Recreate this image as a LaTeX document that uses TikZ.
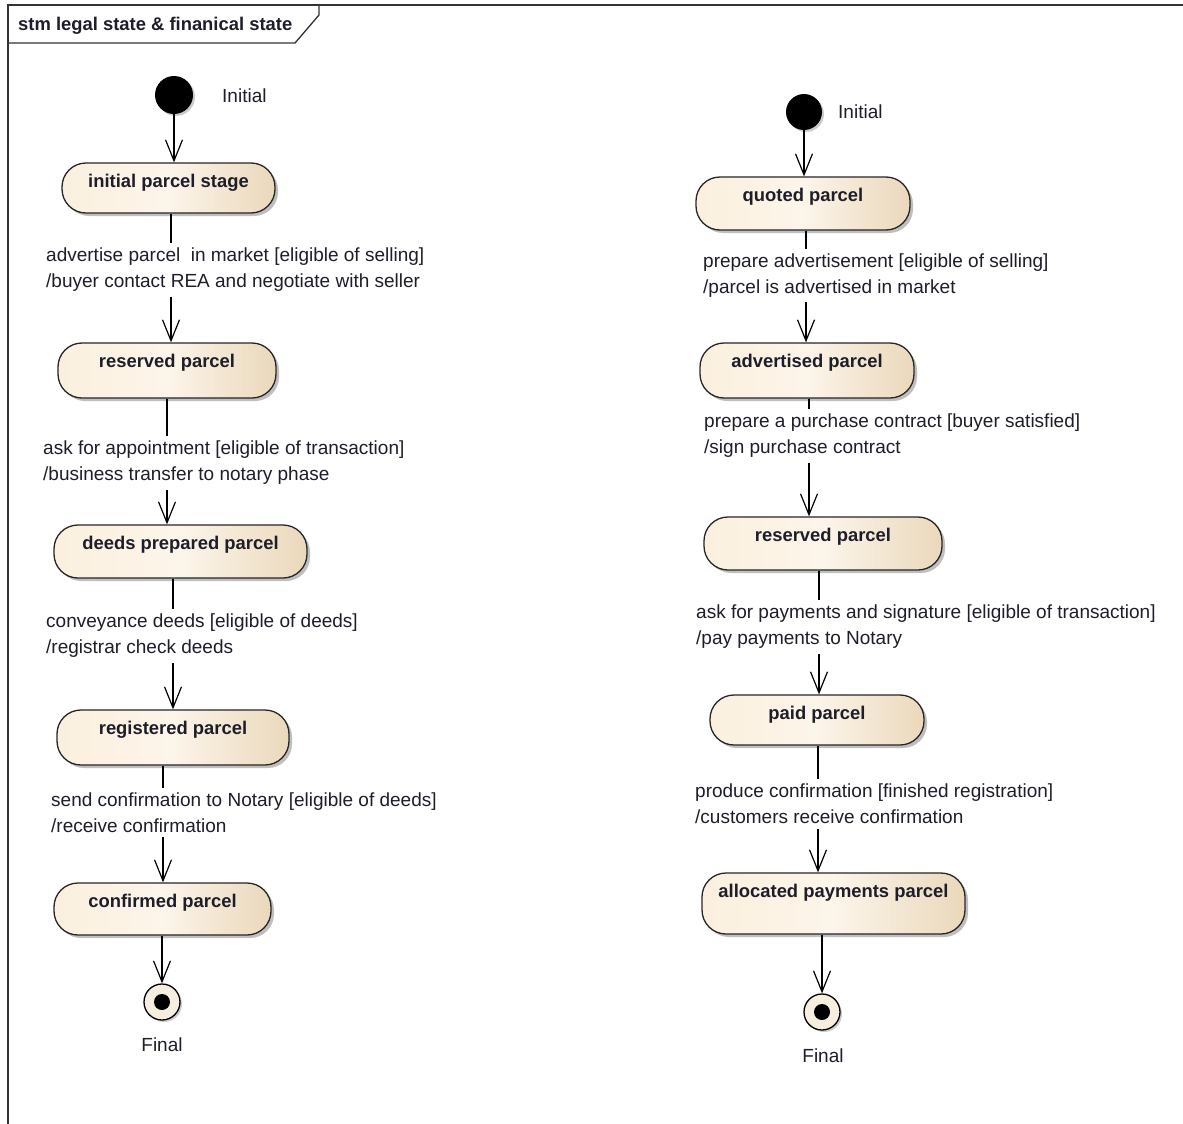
\documentclass[tikz,border=0pt]{standalone}
\usepackage{fontspec}
\setmainfont{Liberation Sans}
\usetikzlibrary{arrows.meta,shadows}
\definecolor{txt}{HTML}{1E1E2A}
\definecolor{stL}{HTML}{FBF0DE}
\definecolor{stM}{HTML}{FCF5EA}
\definecolor{stR}{HTML}{EAD8BB}
\definecolor{fin}{HTML}{F6EEDF}
\newcommand{\lblfont}{\fontsize{19}{26}\selectfont}
\newcommand{\stfont}{\fontsize{18.4}{22}\selectfont\bfseries}
\begin{document}
\begin{tikzpicture}[x=1pt,y=-1pt,
  frame/.style={draw=black!80,line width=1.3pt},
  stbox/.style={draw=black!85,line width=1.3pt,rounded corners=24pt,
    left color=stL,right color=stR,middle color=stM,inner sep=0pt,
    drop shadow={shadow xshift=3pt,shadow yshift=-3pt,opacity=0.25,fill=black}},
  sttext/.style={font=\stfont,text=txt,anchor=base,yshift=-25pt,inner sep=0pt},
  lbl/.style={font=\lblfont,text=txt,fill=white,align=left,anchor=west,inner xsep=1pt,inner ysep=5pt},
  trans/.style={draw=black,line width=1.2pt,-{Straight Barb[length=21pt,width=17pt]}},
  initst/.style={circle,fill=black,inner sep=0pt,
    drop shadow={shadow xshift=2pt,shadow yshift=-2pt,opacity=0.2,fill=black}},
  finst/.style={circle,draw=black,line width=1.3pt,fill=fin,minimum size=36pt,inner sep=0pt,
    drop shadow={shadow xshift=2pt,shadow yshift=-2pt,opacity=0.2,fill=black}},
  findot/.style={circle,fill=black,minimum size=16pt,inner sep=0pt},
  plaintext/.style={font=\lblfont,text=txt,inner sep=0pt},
  titletext/.style={font=\stfont,text=txt,inner sep=0pt}
]
\useasboundingbox (0,0) rectangle (1183,1124);
\fill[white] (0,0) rectangle (1183,1124);

% frame
\draw[frame] (8,1130) -- (8,5) -- (1190,5);
\draw[frame] (8,43) -- (295,43) -- (319,15) -- (319,5);
\node[titletext,anchor=base west] (title) at (18,31) {stm legal state \& finanical state};

% ---------- left machine ----------
\node[initst,minimum size=38pt] (i1) at (174,95) {};
\node[plaintext,anchor=west] (i1t) at (222,96) {Initial};

\node[stbox,minimum width=213pt,minimum height=50pt,label={[sttext]north:initial parcel stage}] (l1) at (168.5,188) {};
\node[stbox,minimum width=218pt,minimum height=55pt,label={[sttext]north:reserved parcel}] (l2) at (167,370.5) {};
\node[stbox,minimum width=253pt,minimum height=53pt,label={[sttext]north:deeds prepared parcel}] (l3) at (180.5,551.5) {};
\node[stbox,minimum width=232pt,minimum height=55pt,label={[sttext]north:registered parcel}] (l4) at (173,737.5) {};
\node[stbox,minimum width=217pt,minimum height=52pt,label={[sttext]north:confirmed parcel}] (l5) at (162.5,909) {};

\node[finst] (fl) at (162,1002) {};
\node[findot] (fld) at (fl) {};
\node[plaintext] (flt) at (162,1045) {Final};

\coordinate (cl12) at (171,0);
\coordinate (cl23) at (167,0);
\coordinate (cl34) at (173,0);
\coordinate (cl45) at (163,0);

\draw[trans] (i1.south) -- (l1.north -| i1);
\draw[trans] (l1.south -| cl12) -- (l2.north -| cl12);
\draw[trans] (l2.south -| cl23) -- (l3.north -| cl23);
\draw[trans] (l3.south -| cl34) -- (l4.north -| cl34);
\draw[trans] (l4.south -| cl45) -- (l5.north -| cl45);
\draw[trans] (l5.south -| fl) -- (fl.north);

\node[lbl] (tl12) at (45,270) {advertise parcel\ \ in market [eligible of selling]\\/buyer contact REA and negotiate with seller};
\node[lbl] (tl23) at (42,463) {ask for appointment [eligible of transaction]\\/business transfer to notary phase};
\node[lbl] (tl34) at (45,636) {conveyance deeds [eligible of deeds]\\/registrar check deeds};
\node[lbl] (tl45) at (50,812.5) {send confirmation to Notary [eligible of deeds]\\/receive confirmation};

% ---------- right machine ----------
\node[initst,minimum size=36pt] (i2) at (804,112) {};
\node[plaintext,anchor=west] (i2t) at (838,112) {Initial};

\node[stbox,minimum width=214pt,minimum height=53pt,label={[sttext]north:quoted parcel}] (r1) at (803,203.5) {};
\node[stbox,minimum width=214pt,minimum height=55pt,label={[sttext]north:advertised parcel}] (r2) at (807,370.5) {};
\node[stbox,minimum width=238pt,minimum height=53pt,label={[sttext]north:reserved parcel}] (r3) at (823,543.5) {};
\node[stbox,minimum width=214pt,minimum height=50pt,label={[sttext]north:paid parcel}] (r4) at (817,720) {};
\node[stbox,minimum width=263pt,minimum height=61pt,label={[sttext]north:allocated payments parcel}] (r5) at (833.5,903.5) {};

\node[finst] (fr) at (822,1012) {};
\node[findot] (frd) at (fr) {};
\node[plaintext] (frt) at (823,1056) {Final};

\coordinate (cr12) at (806,0);
\coordinate (cr23) at (809,0);
\coordinate (cr34) at (819,0);
\coordinate (cr45) at (818,0);

\draw[trans] (i2.south) -- (r1.north -| i2);
\draw[trans] (r1.south -| cr12) -- (r2.north -| cr12);
\draw[trans] (r2.south -| cr23) -- (r3.north -| cr23);
\draw[trans] (r3.south -| cr34) -- (r4.north -| cr34);
\draw[trans] (r4.south -| cr45) -- (r5.north -| cr45);
\draw[trans] (r5.south -| fr) -- (fr.north);

\node[lbl] (tr12) at (702,275.5) {prepare advertisement [eligible of selling]\\/parcel is advertised in market};
\node[lbl] (tr23) at (703,436) {prepare a purchase contract [buyer satisfied]\\/sign purchase contract};
\node[lbl] (tr34) at (695,627) {ask for payments and signature [eligible of transaction]\\/pay payments to Notary};
\node[lbl] (tr45) at (694,804) {produce confirmation [finished registration]\\/customers receive confirmation};
\end{tikzpicture}
\end{document}
